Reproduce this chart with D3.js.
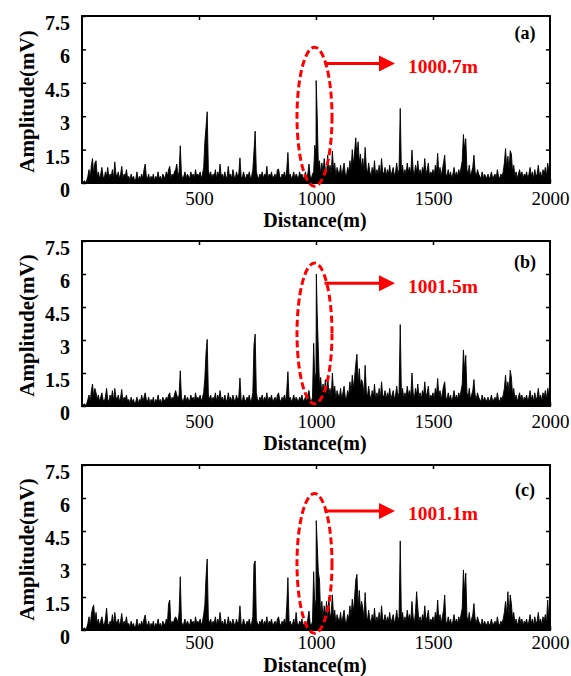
<!DOCTYPE html>
<html>
<head>
<meta charset="utf-8">
<script src="https://cdn.jsdelivr.net/npm/d3@7"></script>
<style>
  html, body { margin: 0; padding: 0; background: #fff; }
  svg { display: block; }
</style>
</head>
<body>
<svg id="chart" width="571" height="676"></svg>
<script>
// Reflected amplitude along the fibre, sampled every 5 m from 0 to 2000 m (mV)
const sampleStep = 5;

const traceA = [
  0.05,0.05,0.1,0.05,0.1,0.3,0.6,0.2,0.8,1.1,0.4,0.9,1.0,0.3,0.5,0.2,0.4,0.7,0.3,0.2,
  0.5,0.3,0.7,0.2,0.4,0.3,0.6,0.2,0.95,0.4,0.3,0.5,0.2,0.4,0.75,0.2,0.4,0.3,0.6,0.2,
  0.3,0.1,0.4,0.2,0.3,0.1,0.2,0.5,0.1,0.3,0.2,0.4,0.2,0.6,0.85,0.3,0.2,0.4,0.1,0.3,
  0.2,0.4,0.1,0.3,0.2,0.5,0.2,0.3,0.1,0.4,0.3,0.2,0.5,0.3,0.6,0.75,0.2,0.4,0.3,0.5,
  0.6,0.85,0.3,0.5,1.67,0.4,0.2,0.3,0.5,0.2,0.4,0.3,0.2,0.5,0.3,0.4,0.2,0.6,0.3,0.4,
  0.3,0.5,0.2,0.4,0.7,1.85,2.5,3.2,0.6,0.3,0.5,0.2,0.4,0.3,0.6,0.2,0.5,0.3,0.85,0.3,
  0.4,0.2,0.5,0.3,0.2,0.75,0.3,0.4,0.2,0.6,0.3,0.2,0.5,0.3,0.4,1.13,0.3,0.2,0.5,0.3,
  0.2,0.4,0.3,0.5,0.2,0.3,0.6,1.43,2.33,0.5,0.3,0.2,0.4,0.3,0.5,0.2,0.4,0.3,0.75,0.2,
  0.4,0.3,0.5,0.2,0.3,0.4,0.2,0.6,0.63,0.3,0.2,0.4,0.3,0.5,0.2,0.6,1.37,0.3,0.4,0.2,
  0.3,0.5,0.2,0.4,0.3,0.2,0.5,0.3,0.4,0.2,0.3,0.5,0.2,0.4,0.85,0.3,0.2,0.4,0.5,1.7,
  1.2,3.1,0.8,1.0,0.4,0.9,0.5,1.1,0.6,0.4,1.25,0.5,0.8,0.4,1.43,0.6,0.9,0.3,0.7,0.5,
  0.4,0.8,0.3,0.6,0.9,0.4,0.3,0.7,0.5,1.0,0.6,1.5,0.8,1.4,2.03,1.2,1.85,0.9,1.3,0.6,
  1.1,0.5,1.6,0.7,0.4,0.9,0.5,0.3,0.7,0.4,1.0,0.3,0.6,0.4,0.8,0.3,1.1,0.5,0.4,0.7,
  0.3,0.6,0.4,0.8,0.3,0.5,0.7,0.3,0.5,0.9,0.4,0.6,3.35,0.5,0.8,0.3,0.6,0.4,0.9,0.5,
  0.7,0.4,1.48,0.6,0.3,0.8,0.5,1.0,0.4,0.6,0.3,0.7,0.5,1.1,0.4,0.6,0.9,0.3,0.5,0.4,
  0.6,0.3,0.8,0.5,1.33,0.4,0.7,0.3,0.6,0.9,1.25,0.4,0.3,0.6,0.3,0.5,0.2,0.4,0.7,0.3,
  0.5,0.3,0.6,0.4,0.7,1.0,2.18,1.5,1.99,0.6,0.4,0.8,0.3,0.5,0.7,1.25,0.5,0.3,0.6,0.4,
  0.3,0.2,0.5,0.2,0.4,0.3,0.2,0.4,0.2,0.3,0.5,0.2,0.3,0.4,0.2,0.6,0.3,0.2,0.4,0.3,
  0.5,0.9,1.55,0.7,1.2,0.6,1.45,1.3,0.5,0.8,0.3,0.5,0.2,0.4,0.6,0.3,0.5,0.2,0.4,0.3,
  0.5,0.2,0.4,0.7,0.3,0.5,0.2,0.6,0.3,0.4,0.8,0.3,0.5,0.2,0.6,0.4,0.7,0.3,0.9,0.5,
  1.2
];

const traceB = [
  0.05,0.05,0.1,0.05,0.1,0.3,0.5,0.2,0.7,1.0,0.4,0.8,0.6,0.3,0.5,0.2,0.4,0.6,0.3,0.2,
  0.4,0.8,0.3,0.2,0.5,0.3,0.7,0.2,0.8,0.4,0.3,0.5,0.2,0.4,0.75,0.2,0.4,0.3,0.5,0.2,
  0.3,0.1,0.4,0.2,0.3,0.1,0.2,0.4,0.1,0.3,0.2,0.5,0.2,0.4,0.6,0.3,0.2,0.4,0.1,0.3,
  0.2,0.4,0.1,0.3,0.2,0.5,0.2,0.3,0.1,0.4,0.3,0.2,0.4,0.3,0.5,0.6,0.2,0.4,0.3,0.5,
  0.7,0.5,0.3,0.5,1.6,0.4,0.2,0.3,0.5,0.2,0.4,0.3,0.2,0.5,0.3,0.4,0.2,0.6,0.3,0.4,
  0.3,0.5,0.2,0.4,0.6,1.27,2.4,3.03,0.5,0.3,0.5,0.2,0.4,0.3,0.6,0.2,0.5,0.3,0.7,0.3,
  0.4,0.2,0.5,0.3,0.2,0.6,0.3,0.4,0.2,0.5,0.3,0.2,0.5,0.3,0.4,1.27,0.3,0.2,0.5,0.3,
  0.2,0.4,0.3,0.5,0.2,0.3,0.6,2.77,3.27,0.6,0.3,0.2,0.4,0.3,0.5,0.2,0.4,0.3,0.6,0.2,
  0.4,0.3,0.5,0.2,0.3,0.4,0.2,0.5,0.6,0.3,0.2,0.4,0.3,0.5,0.2,0.7,1.56,0.3,0.4,0.2,
  0.3,0.5,0.2,0.4,0.3,0.2,0.4,0.3,0.5,0.2,0.3,0.4,0.2,0.5,0.7,0.3,0.2,0.4,2.85,1.2,
  1.5,4.3,2.5,0.9,1.3,0.5,1.0,0.6,1.2,0.4,1.4,0.5,0.8,0.4,1.5,0.6,0.9,0.3,0.7,0.5,
  0.4,0.8,0.3,0.6,0.9,0.4,0.3,0.7,0.5,1.1,0.6,1.4,0.8,1.3,1.9,2.35,1.0,1.7,0.9,1.2,
  1.0,0.5,1.85,0.7,0.4,0.9,0.5,0.3,0.7,0.4,1.0,0.3,0.6,0.4,0.8,0.3,1.1,0.5,0.4,0.7,
  0.3,0.6,0.4,0.8,0.3,0.5,0.7,0.3,0.5,0.9,0.4,0.6,3.7,0.5,0.8,0.3,0.6,0.4,0.9,0.5,
  0.7,0.4,1.5,0.6,0.3,0.8,0.5,1.0,0.4,0.6,0.3,0.7,0.5,1.1,0.4,0.6,0.9,0.3,0.5,0.4,
  0.6,0.3,0.8,0.5,1.25,0.4,0.7,0.3,0.6,0.9,1.1,0.4,0.3,0.6,0.3,0.5,0.2,0.4,0.7,0.3,
  0.5,0.3,0.6,0.4,0.7,1.0,2.55,1.6,2.3,0.6,0.4,0.8,0.3,0.5,0.7,1.2,0.5,0.3,0.6,0.4,
  0.3,0.2,0.5,0.2,0.4,0.3,0.2,0.4,0.2,0.3,0.5,0.2,0.3,0.4,0.2,0.6,0.3,0.2,0.4,0.3,
  0.5,0.8,1.4,0.7,1.1,0.6,1.63,1.3,0.5,0.8,0.3,0.5,0.2,0.4,0.6,0.3,0.5,0.2,0.4,0.3,
  0.5,0.2,0.4,0.7,0.3,0.5,0.2,0.6,0.3,0.4,0.8,0.3,0.5,0.2,0.6,0.4,0.7,0.3,0.8,0.5,
  1.3
];

const traceC = [
  0.05,0.05,0.1,0.05,0.1,0.3,0.6,0.2,0.7,1.0,1.14,0.4,0.8,0.3,0.5,0.2,0.4,0.6,0.3,0.2,
  0.5,1.0,0.3,0.2,0.4,0.3,0.7,0.2,0.8,0.4,0.3,0.5,0.2,0.4,0.75,0.2,0.4,0.3,0.6,0.2,
  0.3,0.1,0.4,0.2,0.3,0.1,0.2,0.5,0.1,0.3,0.2,0.4,0.2,0.5,0.68,0.3,0.2,0.4,0.1,0.3,
  0.2,0.4,0.1,0.3,0.2,0.5,0.2,0.3,0.1,0.4,0.3,0.2,0.5,0.3,1.2,1.36,0.2,0.4,0.3,0.5,
  0.6,0.5,0.3,0.8,2.42,0.4,0.2,0.3,0.5,0.2,0.4,0.3,0.2,0.5,0.3,0.4,0.2,0.6,0.3,0.4,
  0.3,0.5,0.2,0.4,0.7,1.14,2.4,3.23,0.5,0.3,0.5,0.2,0.4,0.3,0.6,0.2,0.5,0.3,0.8,0.3,
  0.4,0.2,0.5,0.3,0.2,0.6,0.3,0.4,0.2,0.5,0.3,0.2,0.5,0.3,0.4,1.1,0.3,0.2,0.5,0.3,
  0.2,0.4,0.3,0.5,0.2,0.3,0.6,3.0,3.14,0.5,0.3,0.2,0.4,0.3,0.5,0.2,0.4,0.3,0.6,0.2,
  0.4,0.3,0.5,0.2,0.3,0.4,0.2,0.5,0.6,0.3,0.2,0.4,0.3,0.5,0.2,1.1,2.38,0.3,0.4,0.2,
  0.3,0.5,0.2,0.8,0.3,0.2,0.4,0.3,0.5,0.2,0.3,0.4,0.2,0.5,0.86,0.3,0.2,0.4,2.65,1.0,
  1.4,3.97,2.65,2.27,0.6,1.3,0.5,1.1,0.6,1.3,0.4,1.5,0.5,0.8,1.6,0.6,0.9,0.3,0.7,0.5,
  0.4,0.8,0.3,0.6,0.9,0.4,0.3,0.7,0.5,1.1,0.6,1.4,0.8,1.5,2.27,2.53,1.0,1.8,0.9,1.3,
  1.0,0.5,1.7,0.7,0.4,0.9,0.5,0.3,0.7,0.4,1.0,0.3,0.6,0.4,0.8,0.3,1.1,0.5,0.4,0.7,
  0.3,0.6,0.4,0.8,0.3,0.5,0.7,0.3,0.5,0.9,0.4,0.6,4.05,0.5,0.8,0.3,0.6,0.4,0.9,0.5,
  0.7,0.4,1.3,0.6,0.3,0.8,1.74,1.0,0.4,0.6,0.3,0.7,0.5,1.1,0.4,0.6,0.9,0.3,0.5,0.4,
  0.6,0.3,0.8,0.5,1.36,0.4,0.7,0.3,0.6,0.9,1.59,0.4,0.3,0.6,0.3,0.5,0.2,0.4,0.7,0.3,
  0.5,0.3,0.6,0.4,0.7,1.0,2.73,1.7,2.58,0.6,0.4,0.8,0.3,0.5,0.7,1.2,0.5,0.3,0.6,0.4,
  0.3,0.2,0.5,0.2,0.4,0.3,0.2,0.4,0.2,0.3,0.5,0.2,0.3,0.4,0.2,0.6,0.3,0.2,0.4,0.3,
  0.5,0.8,1.3,0.7,1.74,0.6,1.59,1.2,0.5,0.8,0.3,0.5,0.2,0.4,0.6,0.3,0.5,0.2,0.4,0.3,
  0.5,0.2,0.4,0.7,0.3,0.5,0.2,0.6,0.3,0.4,0.8,0.3,0.5,0.2,0.6,0.4,0.7,0.3,1.36,0.5,
  1.0
];

// Located event (reflection peak) in each measurement
const peakPositions = [1000.7, 1001.5, 1001.1];   // m
const peakAmplitudes = [4.6, 6.0, 4.97];           // mV

const panelNames = ["(a)", "(b)", "(c)"];
const xTickValues = [500, 1000, 1500, 2000];
const yTickValues = [0, 1.5, 3, 4.5, 6, 7.5];

// ---- layout ----
const svg = d3.select("#chart");
const left = 82, right = 550;
const panels = [
  { top: 16,  height: 167, trace: traceA, ell: [6.1, -0.15], arrowY: 5.37, nameDy: 17, tickPad: 9, titleBase: 44 },
  { top: 241, height: 165, trace: traceB, ell: [6.5, 0.1],   arrowY: 5.58, nameDy: 21, tickPad: 9, titleBase: 44 },
  { top: 465, height: 165, trace: traceC, ell: [6.2, -0.15], arrowY: 5.41, nameDy: 25, tickPad: 6, titleBase: 42 }
];
const serif = "'Liberation Serif', 'Times New Roman', serif";
const red = "#ff0000";

panels.forEach((p, i) => {
  const bottom = p.top + p.height;
  const x = d3.scaleLinear().domain([0, 2000]).range([left, right]);
  const y = d3.scaleLinear().domain([0, 7.5]).range([bottom, p.top]);

  const g = svg.append("g");

  // trace: regular samples plus the located peak
  const pts = p.trace.map((v, k) => [k * sampleStep, v]);
  pts.push([peakPositions[i], peakAmplitudes[i]]);
  pts.sort((a, b) => a[0] - b[0]);
  g.append("path")
    .datum(pts)
    .attr("fill", "#000")
    .attr("d", d3.area().x(d => x(d[0])).y0(y(0)).y1(d => y(d[1])));
  g.append("path")
    .datum(pts)
    .attr("fill", "none")
    .attr("stroke", "#000")
    .attr("stroke-width", 0.9)
    .attr("d", d3.line().x(d => x(d[0])).y(d => y(d[1])));

  // axes with inward ticks
  const ax = g.append("g");
  const bottomAxis = ax.append("g").attr("transform", `translate(0,${bottom})`)
    .call(d3.axisBottom(x).tickValues(xTickValues).tickSize(-4).tickPadding(p.tickPad).tickFormat(d3.format("d")));
  ax.append("g").attr("transform", `translate(0,${p.top})`)
    .call(d3.axisTop(x).tickValues([500, 1000, 1500]).tickSize(-4).tickFormat(""));
  const leftAxis = ax.append("g").attr("transform", `translate(${left},0)`)
    .call(d3.axisLeft(y).tickValues(yTickValues).tickSize(-4).tickPadding(12).tickFormat(d => String(d)));
  ax.append("g").attr("transform", `translate(${right},0)`)
    .call(d3.axisRight(y).tickValues(yTickValues.slice(1, 5)).tickSize(-4).tickFormat(""));
  ax.selectAll(".domain").remove();
  ax.selectAll(".tick line").attr("stroke", "#000").attr("stroke-width", 1.5);

  bottomAxis.selectAll("text")
    .attr("font-family", serif).attr("font-size", 19).attr("fill", "#000");
  leftAxis.selectAll("text")
    .attr("font-family", serif).attr("font-size", 20).attr("font-weight", "bold")
    .attr("fill", "#000").attr("transform", "translate(0,7)");

  // frame
  g.append("rect")
    .attr("x", left).attr("y", p.top)
    .attr("width", right - left).attr("height", p.height)
    .attr("fill", "none").attr("stroke", "#000").attr("stroke-width", 2);

  // axis titles
  g.append("text")
    .attr("x", 315).attr("y", bottom + p.titleBase)
    .attr("text-anchor", "middle")
    .attr("font-family", serif).attr("font-size", 20).attr("font-weight", "bold")
    .text("Distance(m)");
  g.append("text")
    .attr("transform", `translate(27,${p.top + p.height / 2 + 2}) rotate(-90)`)
    .attr("text-anchor", "middle").attr("dominant-baseline", "central")
    .attr("font-family", serif).attr("font-size", 21).attr("font-weight", "bold")
    .text("Amplitude(mV)");

  // panel name
  g.append("text")
    .attr("x", 525).attr("y", p.top + p.nameDy)
    .attr("text-anchor", "middle").attr("dominant-baseline", "central")
    .attr("font-family", serif).attr("font-size", 18).attr("font-weight", "bold")
    .text(panelNames[i]);

  // dashed ellipse around the peak
  const cx = x(1000) - 1.5;
  const yTop = y(p.ell[0]), yBot = y(p.ell[1]);
  g.append("ellipse")
    .attr("cx", cx).attr("cy", (yTop + yBot) / 2)
    .attr("rx", 17.5).attr("ry", (yBot - yTop) / 2)
    .attr("fill", "none").attr("stroke", red).attr("stroke-width", 3)
    .attr("stroke-dasharray", "7,3.5");

  // arrow to the located distance
  const ay = y(p.arrowY);
  const ax0 = cx + 10, tip = 395;
  g.append("line")
    .attr("x1", ax0).attr("y1", ay).attr("x2", tip - 14).attr("y2", ay)
    .attr("stroke", red).attr("stroke-width", 3);
  g.append("path")
    .attr("d", `M${tip},${ay} L${tip - 16},${ay - 8} L${tip - 16},${ay + 8} Z`)
    .attr("fill", red);
  g.append("text")
    .attr("x", 408).attr("y", ay + 3)
    .attr("dominant-baseline", "central")
    .attr("font-family", serif).attr("font-size", 19.5).attr("font-weight", "bold")
    .attr("fill", red)
    .text(`${peakPositions[i]}m`);
});
</script>
</body>
</html>
